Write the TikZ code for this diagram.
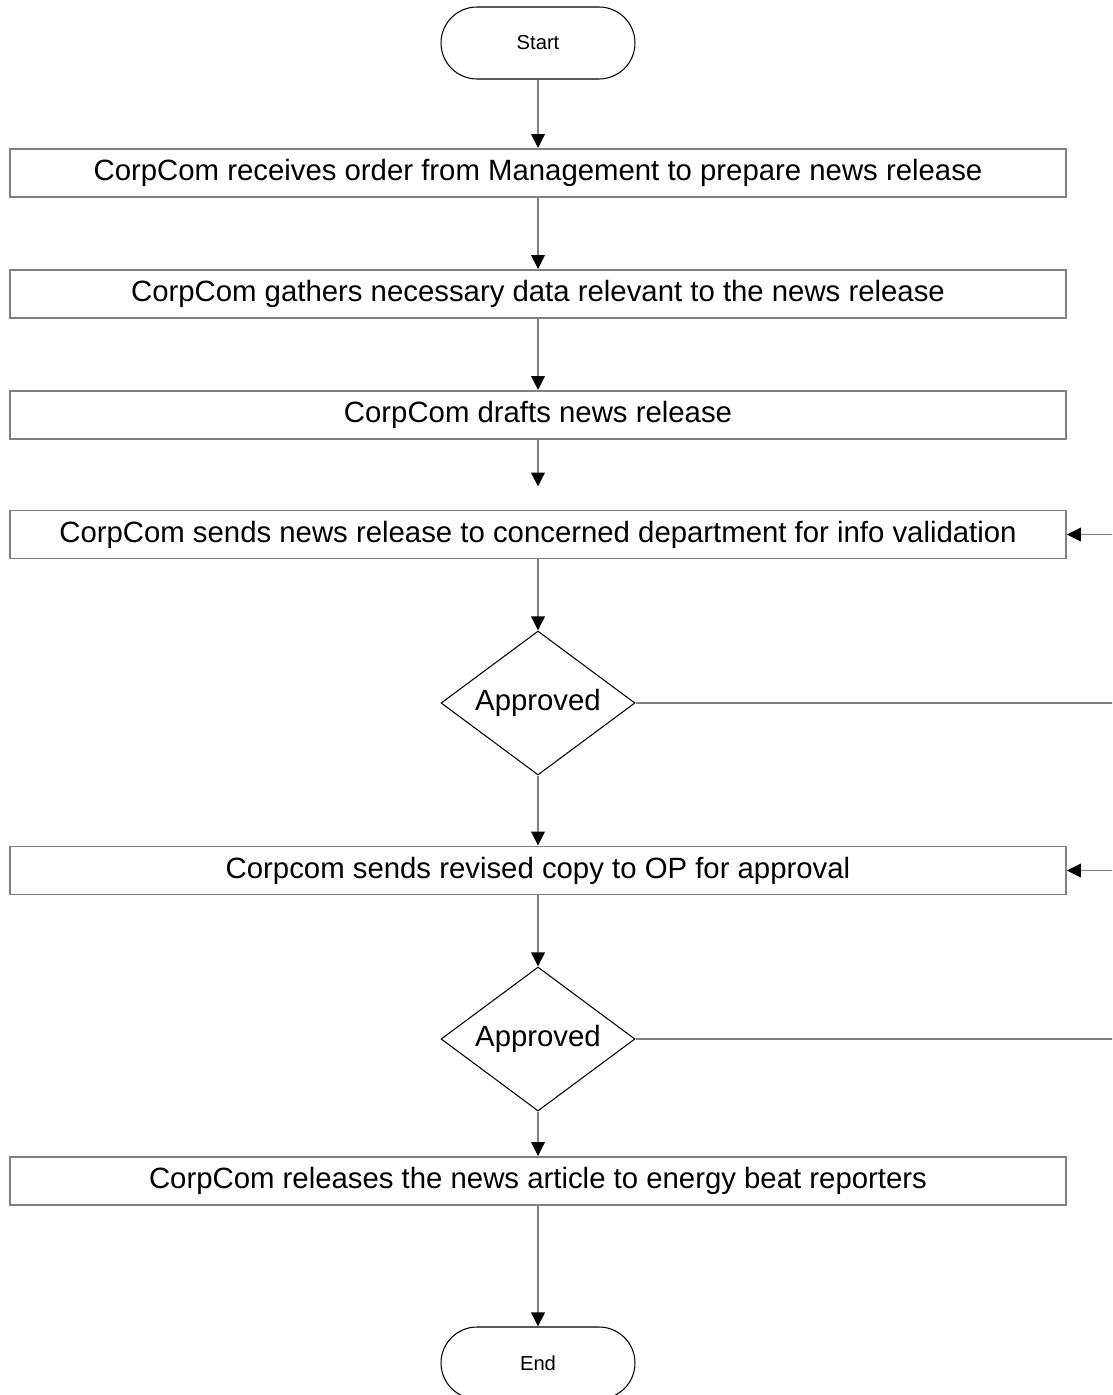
\documentclass[tikz,border=0pt]{standalone}
\usepackage{fontspec}
\setmainfont{Liberation Sans}
\usetikzlibrary{arrows.meta,shapes.geometric}

\definecolor{edgegray}{HTML}{808080}

\begin{document}
\begin{tikzpicture}[
  x=0.02cm, y=-0.02cm,
  box/.style={draw=edgegray, line width=1.1pt, minimum height=0.96cm, minimum width=21.12cm,
              inner sep=0pt, font=\fontsize{16.7}{19}\selectfont},
  term/.style={draw, line width=0.6pt, rounded corners=0.72cm, minimum height=1.44cm,
               minimum width=3.88cm, font=\fontsize{11.5}{13}\selectfont},
  decision/.style={diamond, draw, line width=0.6pt, minimum width=3.88cm, minimum height=2.88cm,
                   inner sep=0pt, aspect=1.35, font=\fontsize{16.7}{19}\selectfont},
  flow/.style={draw=edgegray, line width=1.1pt, ->},
  >={Triangle[length=0.28cm,width=0.27cm,color=black]}
]
  \clip (0,0) rectangle (1112,1395);

  \node[term] (start) at (538,43) {Start};
  \node[box] (recv) at (538,173) {CorpCom receives order from Management to prepare news release};
  \node[box] (gather) at (538,294) {CorpCom gathers necessary data relevant to the news release};
  \node[box] (draft) at (538,415) {CorpCom drafts news release};
  \node[box] (validate) at (538,534.5) {CorpCom sends news release to concerned department for info validation};
  \node[decision] (ok1) at (538,703) {Approved};
  \node[box] (revise) at (538,870.5) {Corpcom sends revised copy to OP for approval};
  \node[decision] (ok2) at (538,1039) {Approved};
  \node[box] (release) at (538,1181) {CorpCom releases the news article to energy beat reporters};
  \node[term] (end) at (538,1363) {End};

  \draw[flow] (start) -- (recv);
  \draw[flow] (recv) -- (gather);
  \draw[flow] (gather) -- (draft);
  \draw[flow, shorten >=0.46cm] (draft) -- (validate);
  \draw[flow] (validate) -- (ok1);
  \draw[flow] (ok1) -- (revise);
  \draw[flow] (ok2) -- (release);
  \draw[flow] (revise) -- (ok2);
  \draw[flow] (release) -- (end);

  % return paths run off the right edge
  \draw[flow] (ok1.east) -- ++(600,0) |- (validate.east);
  \draw[flow] (ok2.east) -- ++(600,0) |- (revise.east);
\end{tikzpicture}
\end{document}
